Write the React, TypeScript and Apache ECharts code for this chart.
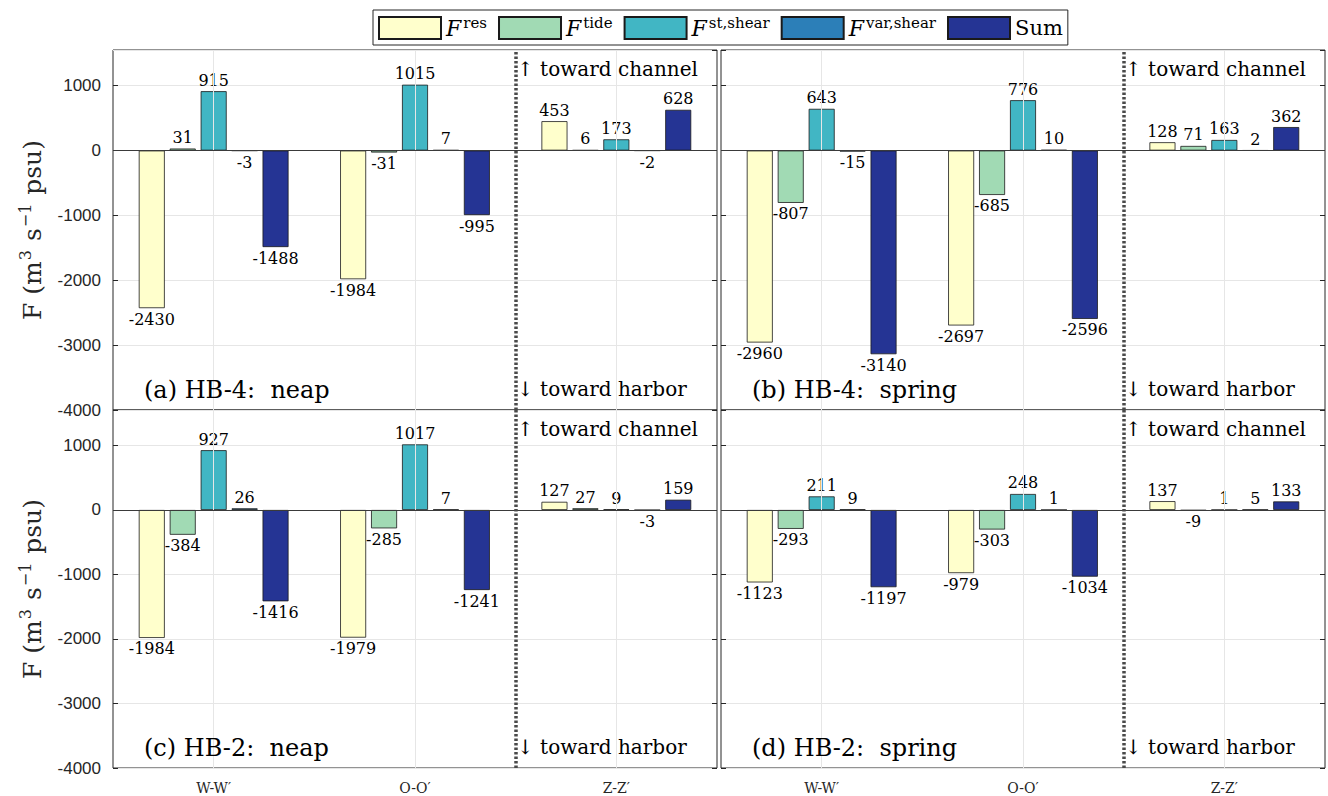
import React, { useEffect, useRef } from "react";
import * as echarts from "echarts";

const categories = ["W-W′", "O-O′", "Z-Z′"];
const seriesNames = ["res", "tide", "st,shear", "var,shear", "Sum"];
const seriesColors = ["#ffffcc", "#a1dab4", "#41b6c4", "#2c7fb8", "#253494"];

// each row: one series (res, tide, st,shear, var,shear, Sum) across W-W', O-O', Z-Z'
const hb4Neap = [
  [-2430, -1984, 453],
  [31, -31, 6],
  [915, 1015, 173],
  [-3, 7, -2],
  [-1488, -995, 628],
];
const hb4Spring = [
  [-2960, -2697, 128],
  [-807, -685, 71],
  [643, 776, 163],
  [-15, 10, 2],
  [-3140, -2596, 362],
];
const hb2Neap = [
  [-1984, -1979, 127],
  [-384, -285, 27],
  [927, 1017, 9],
  [26, 7, -3],
  [-1416, -1241, 159],
];
const hb2Spring = [
  [-1123, -979, 137],
  [-293, -303, -9],
  [211, 248, 1],
  [9, 1, 5],
  [-1197, -1034, 133],
];

const panelData = [hb4Neap, hb4Spring, hb2Neap, hb2Spring];
const panelTitles = ["(a) HB-4:  neap", "(b) HB-4:  spring", "(c) HB-2:  neap", "(d) HB-2:  spring"];

const SERIF = "'DejaVu Serif', 'Liberation Serif', serif";
const SANS = "'Liberation Sans', Arial, sans-serif";

export default function App() {
  const ref = useRef<HTMLDivElement>(null);
  useEffect(() => {
    if (!ref.current) return;
    const chart = echarts.init(ref.current, null, { renderer: "svg" });

    const lefts = [113, 721, 113, 721];
    const tops = [50, 50, 410, 410];
    const heights = [360, 360, 358, 358];
    const W = 604;

    const grid: any[] = [];
    const xAxis: any[] = [];
    const yAxis: any[] = [];
    const series: any[] = [];
    const graphic: any[] = [];

    panelData.forEach((pd, i) => {
      const isLeft = i % 2 === 0;
      const isBottom = i >= 2;
      grid.push({
        left: lefts[i],
        top: tops[i],
        width: W,
        height: heights[i],
        show: true,
        borderColor: "#262626",
        borderWidth: 1,
        backgroundColor: "#ffffff",
      });
      // xAxis index i*3: bars; i*3+1: hidden value axis for lines; i*3+2: top ticks
      xAxis.push({
        type: "category",
        gridIndex: i,
        data: categories,
        axisLine: { show: false },
        axisTick: { show: true, inside: true, alignWithLabel: true, length: 5, lineStyle: { color: "#262626" } },
        axisLabel: {
          show: isBottom,
          fontFamily: SERIF,
          fontSize: 14,
          color: "#262626",
          margin: 13,
        },
        splitLine: { show: false },
      });
      xAxis.push({
        type: "value",
        gridIndex: i,
        min: 0,
        max: 3,
        show: false,
      });
      xAxis.push({
        type: "category",
        gridIndex: i,
        position: "top",
        data: categories,
        axisLine: { show: false },
        axisTick: { show: true, inside: true, alignWithLabel: true, length: 5, lineStyle: { color: "#262626" } },
        axisLabel: { show: false },
        splitLine: { show: false },
      });
      // yAxis index i*2: main; i*2+1: right ticks
      yAxis.push({
        type: "value",
        gridIndex: i,
        min: -4000,
        max: 1550,
        interval: 1000,
        axisLine: { show: false },
        axisTick: { show: true, inside: true, length: 5, lineStyle: { color: "#262626" } },
        axisLabel: {
          show: isLeft,
          showMaxLabel: false,
          fontFamily: SANS,
          fontSize: 17,
          color: "#262626",
          margin: 12,
          formatter: (v: number) => String(v),
        },
        splitLine: { show: true, lineStyle: { color: "#e6e6e6", width: 1 } },
        name: isLeft ? "{m|F (m}{s|3}{m| s}{s|−1}{m| psu)}" : "",
        nameLocation: "middle",
        nameGap: 66,
        nameTextStyle: {
          color: "#262626",
          rich: {
            m: { fontFamily: SERIF, fontSize: 25, lineHeight: 30, color: "#262626" },
            s: { fontFamily: SERIF, fontSize: 16, lineHeight: 30, verticalAlign: "top", padding: [0, 1, 12, 1], color: "#262626" },
          },
        },
      });
      yAxis.push({
        type: "value",
        gridIndex: i,
        position: "right",
        min: -4000,
        max: 1550,
        interval: 1000,
        axisLine: { show: false },
        axisTick: { show: true, inside: true, length: 5, lineStyle: { color: "#262626" } },
        axisLabel: { show: false },
        splitLine: { show: false },
      });

      const catX = i * 3;
      const valX = i * 3 + 1;
      const yIdx = i * 2;

      series.push({
        type: "line",
        xAxisIndex: valX,
        yAxisIndex: yIdx,
        data: [[0.5, 0]],
        showSymbol: false,
        symbol: "none",
        lineStyle: { opacity: 0 },
        silent: true,
        z: 0,
        markLine: {
          silent: true,
          symbol: "none",
          label: { show: false },
          lineStyle: { color: "#e6e6e6", width: 1, type: "solid" },
          data: [{ xAxis: 0.5 }, { xAxis: 1.5 }, { xAxis: 2.5 }],
        },
      });

      pd.forEach((vals, s) => {
        series.push({
          name: seriesNames[s],
          type: "bar",
          xAxisIndex: catX,
          yAxisIndex: yIdx,
          barWidth: 26,
          barGap: "19%",
          z: 2,
          itemStyle: { color: seriesColors[s], borderColor: "#1a1a1a", borderWidth: 0.8 },
          label: {
            show: true,
            fontFamily: SERIF,
            fontSize: 16,
            color: "#000",
            distance: 3,
          },
          data: vals.map((v) => ({
            value: v,
            label: { position: v < 0 ? "bottom" : "top" },
          })),
        });
      });

      series.push({
        type: "line",
        xAxisIndex: valX,
        yAxisIndex: yIdx,
        data: [[0.5, 0]],
        showSymbol: false,
        symbol: "none",
        lineStyle: { opacity: 0 },
        silent: true,
        z: 5,
        markLine: {
          silent: true,
          symbol: "none",
          label: { show: false },
          data: [
            { yAxis: 0, lineStyle: { color: "#3a3a3a", width: 1, type: "solid" } },
            { xAxis: 2, lineStyle: { color: "#4a4a4a", width: 3.5, type: [2.5, 2] } },
          ],
        },
      });

      const L = lefts[i];
      const T = tops[i];
      graphic.push({
        type: "text",
        left: L + 31,
        top: T + heights[i] - 32,
        z: 10,
        style: { text: panelTitles[i], font: `24px ${SERIF}`, fill: "#000" },
      });
      graphic.push({
        type: "text",
        left: L + 404,
        top: T + 9,
        z: 10,
        style: { text: "↑ toward channel", font: `20px ${SERIF}`, fill: "#000" },
      });
      graphic.push({
        type: "text",
        left: L + 404,
        top: T + heights[i] - 31,
        z: 10,
        style: { text: "↓ toward harbor", font: `20px ${SERIF}`, fill: "#000" },
      });
    });

    const option: any = {
      animation: false,
      backgroundColor: "#ffffff",
      legend: {
        data: seriesNames,
        left: 373,
        top: 10,
        orient: "horizontal",
        borderColor: "#262626",
        borderWidth: 1,
        padding: [5, 5, 5, 5],
        itemWidth: 62,
        itemHeight: 22,
        itemGap: 11,
        icon: "rect",
        selectedMode: false,
        formatter: (name: string) =>
          name === "Sum" ? "{n|Sum}" : `{f|F}{s|${name}}`,
        textStyle: {
          color: "#000",
          rich: {
            n: { fontFamily: SERIF, fontSize: 21, lineHeight: 26 },
            f: { fontFamily: SERIF, fontSize: 22, fontStyle: "italic", lineHeight: 26 },
            s: { fontFamily: SERIF, fontSize: 15, lineHeight: 26, verticalAlign: "top", padding: [0, 0, 10, 2] },
          },
        },
      },
      grid,
      xAxis,
      yAxis,
      series,
      graphic,
    };
    chart.setOption(option);
    return () => chart.dispose();
  }, []);

  return (
    <div
      ref={ref}
      style={{ position: "fixed", left: 0, top: 0, width: 1328, height: 796, background: "#fff" }}
    />
  );
}
